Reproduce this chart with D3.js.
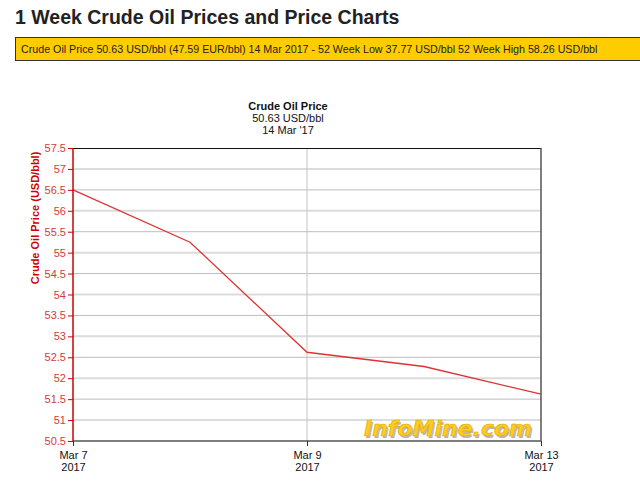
<!DOCTYPE html>
<html>
<head>
<meta charset="utf-8">
<script src="https://cdn.jsdelivr.net/npm/d3@7"></script>
<style>
	body { margin: 0; background: #fff; font-family: "Liberation Sans", Arial, sans-serif; }
	svg { display: block; }
</style>
</head>
<body>
<svg width="640" height="495"></svg>
<script>
var days = ["Mar 7", "Mar 8", "Mar 9", "Mar 10", "Mar 13"];
var prices = [56.5, 55.25, 52.62, 52.28, 51.62];
var tickDays = ["Mar 7", "Mar 9", "Mar 13"];
var yTicks = [50.5, 51, 51.5, 52, 52.5, 53, 53.5, 54, 54.5, 55, 55.5, 56, 56.5, 57, 57.5];
var titleLines = ["Crude Oil Price", "50.63 USD/bbl", "14 Mar '17"];
var heading = "1 Week Crude Oil Prices and Price Charts";
var banner = "Crude Oil Price 50.63 USD/bbl (47.59 EUR/bbl) 14 Mar 2017 - 52 Week Low 37.77 USD/bbl 52 Week High 58.26 USD/bbl";

var svg = d3.select("svg");
var pLeft = 73, pRight = 541, pTop = 148, pBottom = 441;

var x = d3.scalePoint().domain(days).range([pLeft, pRight]);
var y = d3.scaleLinear().domain([50.5, 57.5]).range([pBottom, pTop]);

// page heading and banner
svg.append("text")
	.attr("x", 15).attr("y", 24)
	.style("font-size", "19.5px").style("font-weight", "bold").style("fill", "#222")
	.text(heading);
svg.append("rect")
	.attr("x", 15.5).attr("y", 37.5).attr("width", 640).attr("height", 23)
	.style("fill", "#ffcc00").style("stroke", "#333");
svg.append("text")
	.attr("x", 21).attr("y", 53)
	.style("font-size", "10.7px").style("fill", "#222")
	.text(banner);

// chart title
svg.selectAll(".ctitle")
	.data(titleLines)
	.enter()
	.append("text")
	.attr("x", 288)
	.attr("y", function(d, i){ return 110 + i * 12; })
	.attr("text-anchor", "middle")
	.style("font-size", "11px")
	.style("font-weight", function(d, i){ return i == 0 ? "bold" : "normal"; })
	.style("fill", "#111")
	.text(function(d){ return d; });

// horizontal grid
svg.selectAll(".hgrid")
	.data(yTicks.slice(1, -1))
	.enter()
	.append("line")
	.attr("x1", pLeft).attr("x2", pRight)
	.attr("y1", function(d){ return y(d); })
	.attr("y2", function(d){ return y(d); })
	.style("stroke", function(d){ return d % 1 == 0 ? "#dcdcdc" : "#bdbdbd"; })
	.style("stroke-width", function(d){ return d % 1 == 0 ? 2 : 1; });

// vertical grid
svg.selectAll(".vgrid")
	.data(tickDays.slice(1, -1))
	.enter()
	.append("line")
	.attr("x1", function(d){ return x(d); })
	.attr("x2", function(d){ return x(d); })
	.attr("y1", pTop).attr("y2", pBottom)
	.style("stroke", "#c4c4c4");

// frame
svg.append("line").attr("x1", pLeft).attr("x2", pRight).attr("y1", pTop + 0.5).attr("y2", pTop + 0.5).style("stroke", "#111");
svg.append("line").attr("x1", pRight).attr("x2", pRight).attr("y1", pTop).attr("y2", pBottom).style("stroke", "#555").style("stroke-width", 1.5);

// watermark
var wm = svg.append("g").attr("transform", "translate(448,436)");
wm.append("text")
	.attr("x", 1.5).attr("y", 1.5)
	.attr("text-anchor", "middle")
	.style("font-size", "22px").style("font-weight", "bold").style("font-style", "italic")
	.style("font-family", "'DejaVu Sans', sans-serif")
	.style("fill", "#b8b8b8")
	.text("InfoMine.com");
wm.append("text")
	.attr("text-anchor", "middle")
	.style("font-size", "22px").style("font-weight", "bold").style("font-style", "italic")
	.style("font-family", "'DejaVu Sans', sans-serif")
	.style("fill", "#ffcc22")
	.style("stroke", "#e0a800").style("stroke-width", 0.6)
	.text("InfoMine.com");

// line
var line = d3.line()
	.x(function(d, i){ return x(days[i]); })
	.y(function(d){ return y(d); });
svg.append("path")
	.datum(prices)
	.attr("d", line)
	.style("fill", "none")
	.style("stroke", "#dd3333")
	.style("stroke-width", 1.3);

// y axis
var yAxis = svg.append("g")
	.attr("transform", "translate(" + pLeft + ",0)")
	.call(d3.axisLeft(y).tickValues(yTicks).tickSize(5).tickPadding(2).tickFormat(d3.format("")));
yAxis.select(".domain").style("stroke", "#cc0000").style("stroke-width", 1.5).attr("d", "M0," + pTop + "V" + pBottom);
yAxis.selectAll(".tick line").style("stroke", "#cc0000");
yAxis.selectAll(".tick text").style("fill", "#d63a3a").style("font-size", "11px").style("font-family", "'Liberation Sans', Arial, sans-serif");

svg.append("text")
	.attr("transform", "translate(39,218) rotate(-90)")
	.attr("text-anchor", "middle")
	.style("font-size", "11px").style("font-weight", "bold").style("fill", "#cc0000")
	.text("Crude Oil Price (USD/bbl)");

// x axis
var xAxis = svg.append("g")
	.attr("transform", "translate(0," + pBottom + ")")
	.call(d3.axisBottom(x).tickValues(tickDays).tickSize(5).tickFormat(""));
xAxis.select(".domain").style("stroke", "#555").style("stroke-width", 1.5).attr("d", "M" + pLeft + ",0H" + pRight);
xAxis.selectAll(".tick line").style("stroke", "#333");
xAxis.selectAll(".tick").each(function(d){
	var t = d3.select(this).append("text")
		.attr("text-anchor", "middle")
		.style("fill", "#111").style("font-size", "11px")
		.style("font-family", "'Liberation Sans', Arial, sans-serif");
	t.append("tspan").attr("x", 0).attr("y", 18).text(d);
	t.append("tspan").attr("x", 0).attr("y", 30).text("2017");
});
</script>
</body>
</html>
